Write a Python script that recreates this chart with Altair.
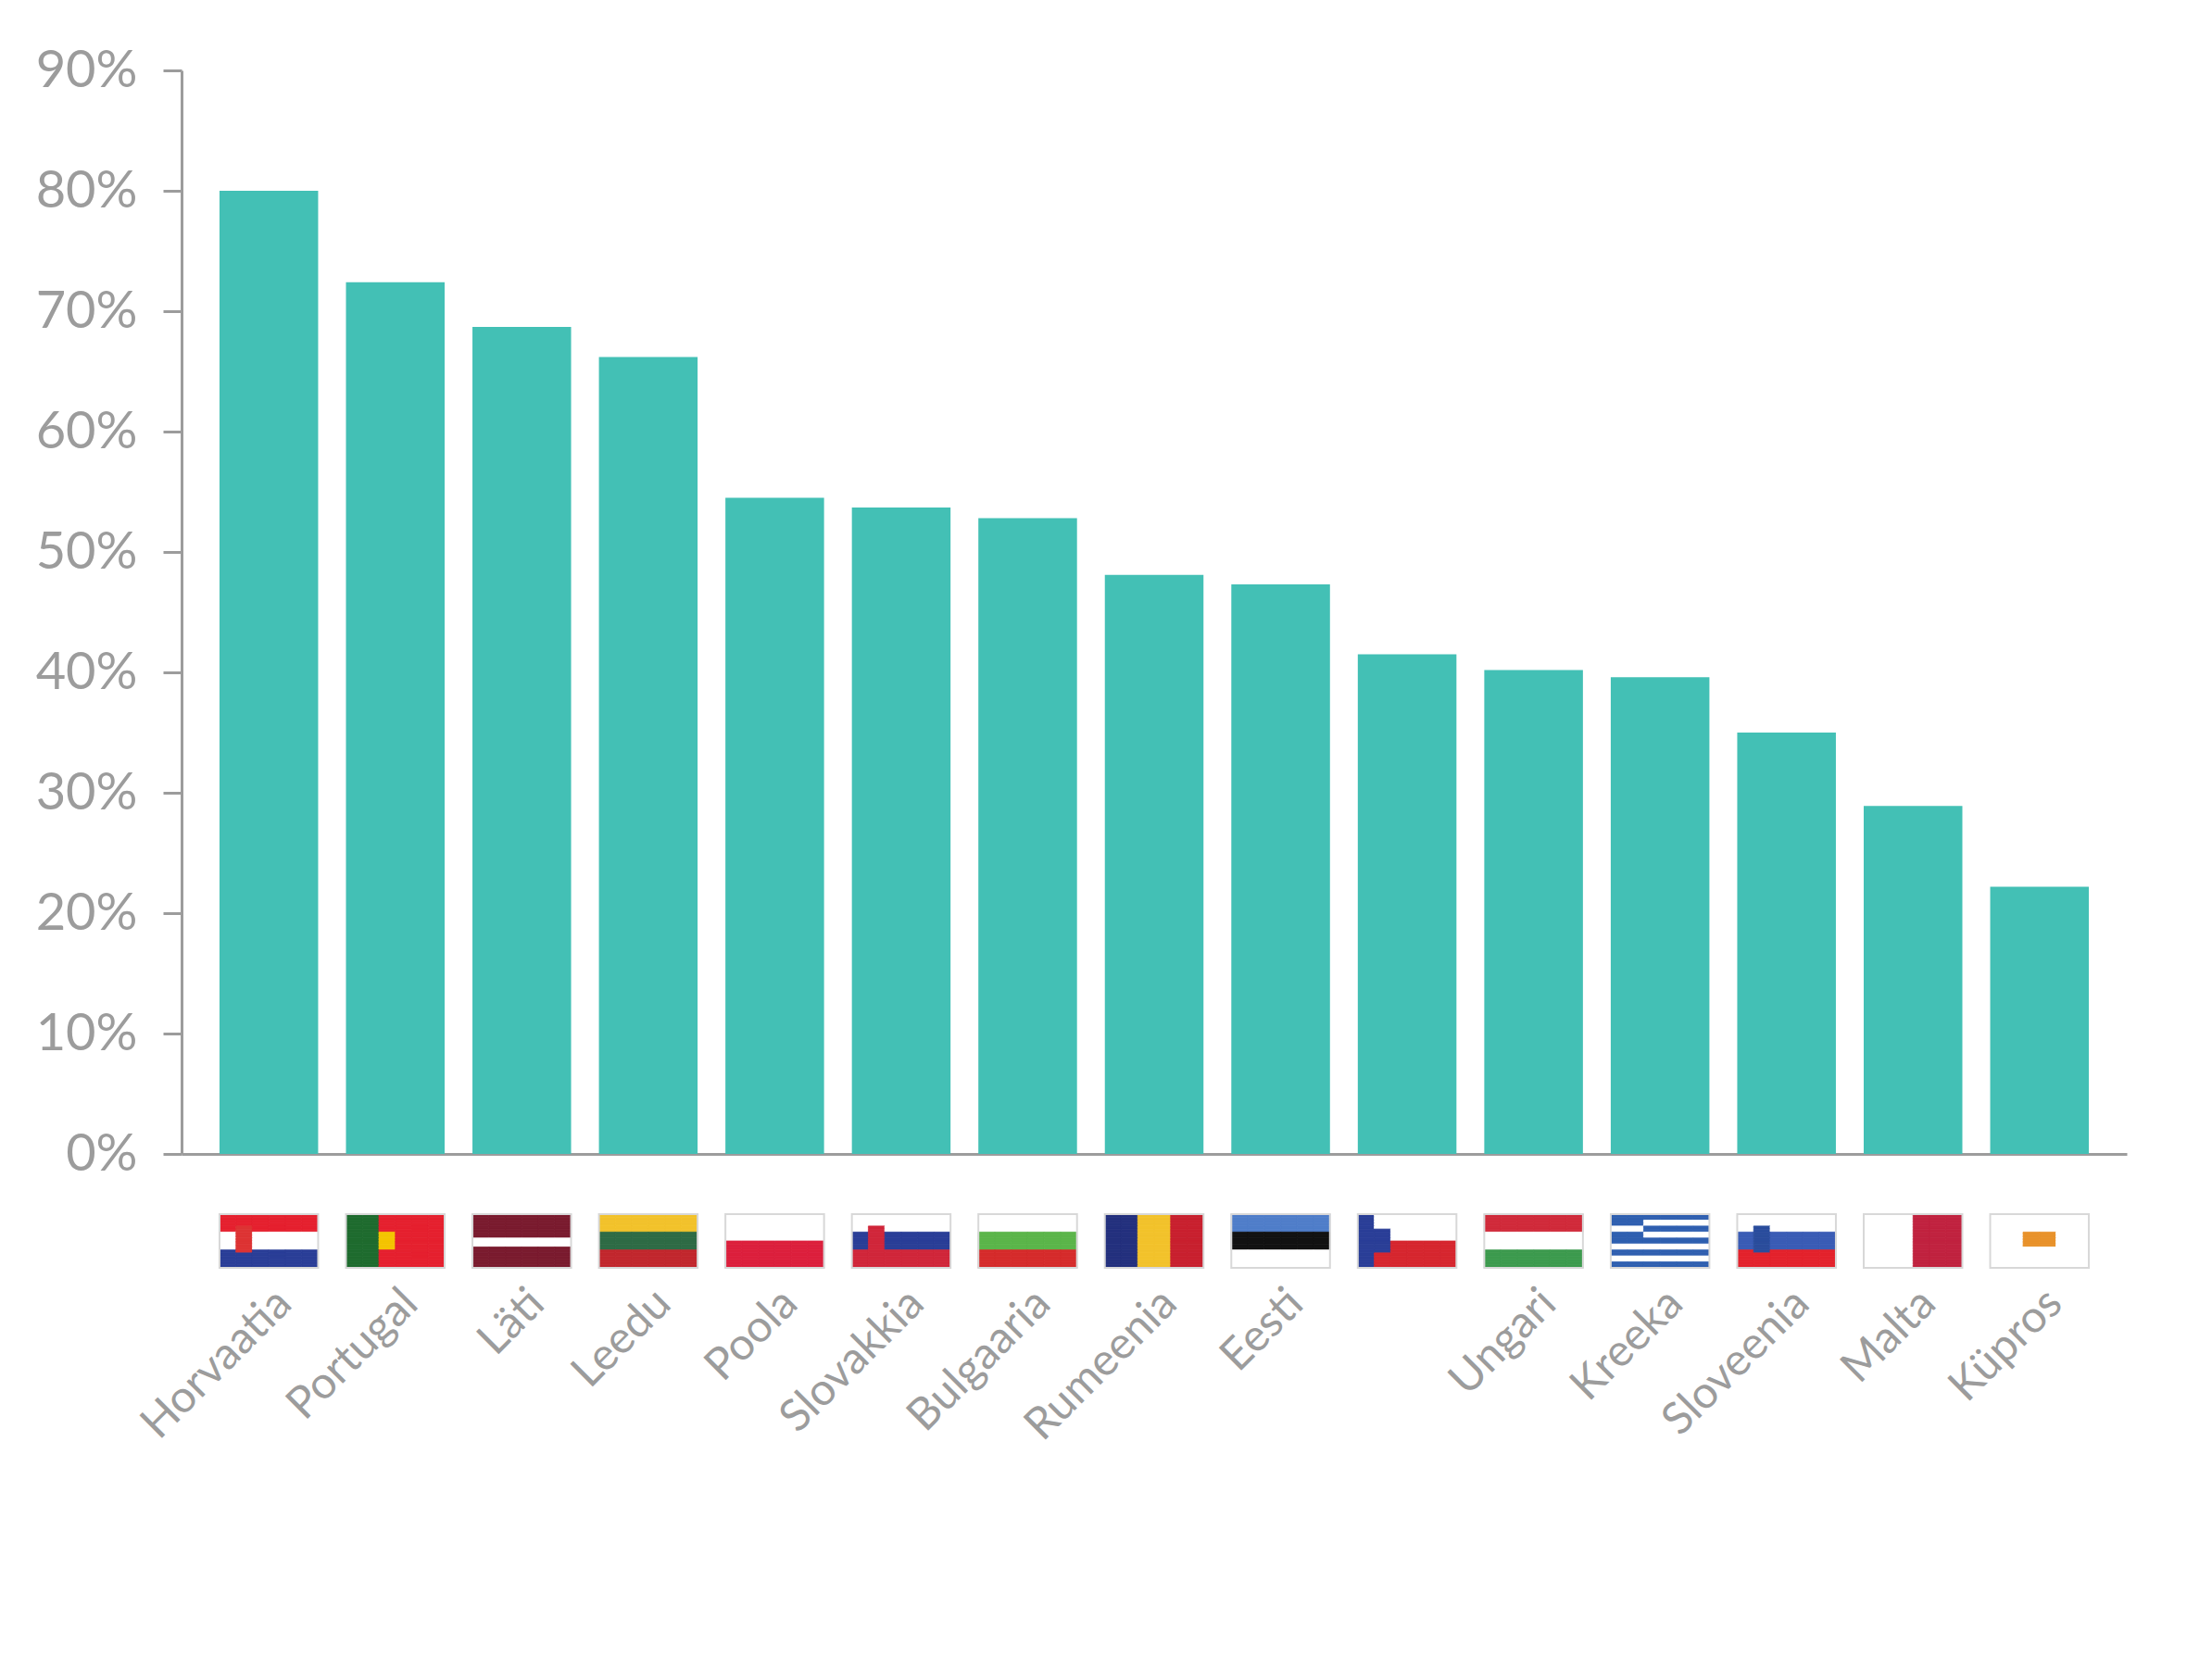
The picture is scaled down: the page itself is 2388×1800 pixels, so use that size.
import altair as alt
import pandas as pd

countries = ["Horvaatia", "Portugal", "Läti", "Leedu", "Poola", "Slovakkia", "Bulgaaria",
             "Rumeenia", "Eesti", "Tšehhi", "Ungari", "Kreeka", "Sloveenia", "Malta", "Küpros"]
shares = [0.800, 0.724, 0.687, 0.662, 0.545, 0.537, 0.528, 0.481, 0.473, 0.415, 0.402,
          0.396, 0.350, 0.289, 0.222]

ROWS, COLS = 18, 6
W, R, B, G, Y, K = "#FFFFFF", "#E5202E", "#2A3E97", "#3C9A4E", "#F2C22B", "#111111"


def stripes(colors, vertical=False):
    n = len(colors)
    if vertical:
        return lambda r, c: colors[c * n // COLS]
    return lambda r, c: colors[r * n // ROWS]


def greece(r, c):
    if r < 10 and c < 2:
        return W if r in (4, 5) else "#2F5FB0"
    return "#2F5FB0" if (r // 2) % 2 == 0 else W


def czech(r, c):
    if c < 2 and abs(r - 8.5) < (2 - c) * 4.5:
        return "#2A3E97"
    return W if r < 9 else "#D6262E"


def with_shield(base, color):
    def f(r, c):
        if 4 <= r < 13 and c == 1:
            return color
        return base(r, c)
    return f


def portugal(r, c):
    if 6 <= r < 12 and c == 2:
        return "#F4C400"
    return "#1E6B2E" if c < 2 else R


def cyprus(r, c):
    if 6 <= r < 11 and 2 <= c < 4:
        return "#E8922B"
    return W


flags = {
    "Horvaatia": with_shield(stripes([R, W, B]), "#D33"),
    "Portugal": portugal,
    "Läti": stripes(["#7A1B2E", "#7A1B2E", W, "#7A1B2E", "#7A1B2E"]),
    "Leedu": stripes([Y, "#2E6B45", "#C1272D"]),
    "Poola": stripes([W, "#DC1F3C"]),
    "Slovakkia": with_shield(stripes([W, B, "#D0263A"]), "#D0263A"),
    "Bulgaaria": stripes([W, "#5BB54A", "#D52B2B"]),
    "Rumeenia": stripes(["#23307D", Y, "#C8202E"], vertical=True),
    "Eesti": stripes(["#4F7DC9", K, W]),
    "Tšehhi": czech,
    "Ungari": stripes(["#D02A3A", W, G]),
    "Kreeka": greece,
    "Sloveenia": with_shield(stripes([W, "#3A5CB5", "#E3222C"]), "#2A4C9C"),
    "Malta": stripes([W, "#C0223F"], vertical=True),
    "Küpros": cyprus,
}

bars_df = pd.DataFrame({"country": countries, "share": shares})
flag_df = pd.DataFrame([
    {"country": name, "row": r, "col": c, "color": flags[name](r, c)}
    for name in countries for r in range(ROWS) for c in range(COLS)
])

grey = "#9C9C9C"
xscale = alt.Scale(domain=countries, paddingInner=0.22, paddingOuter=0.3)

bars = alt.Chart(bars_df).mark_bar(color="#43C0B5").encode(
    x=alt.X("country:N", sort=countries, scale=xscale,
            axis=alt.Axis(labels=False, ticks=False, title=None,
                          domainColor=grey, domainWidth=3)),
    y=alt.Y("share:Q", scale=alt.Scale(domain=[0, 0.9]),
            axis=alt.Axis(format=".0%", values=[i / 10 for i in range(10)],
                          title=None, grid=False, labelFontSize=56,
                          labelColor=grey, domainColor=grey, domainWidth=3,
                          tickColor=grey, tickSize=20, tickWidth=3,
                          labelPadding=28)),
).properties(width=2100, height=1170)

cells = alt.Chart(flag_df).mark_rect(strokeWidth=0.8).encode(
    x=alt.X("country:N", sort=countries, scale=xscale,
            axis=alt.Axis(title=None, ticks=False, domain=False, labelAngle=-45,
                          labelAlign="right", labelBaseline="top", labelLimit=0,
                          labelFontSize=48, labelColor=grey, labelPadding=14,
                          labelExpr="datum.value == 'Tšehhi' ? '' : datum.value")),
    xOffset=alt.XOffset("col:O"),
    y=alt.Y("row:O", axis=None),
    color=alt.Color("color:N", scale=None),
    stroke=alt.Stroke("color:N", scale=None),
)

frames = alt.Chart(bars_df).mark_rect(fillOpacity=0, stroke="#D8D8D8", strokeWidth=2).encode(
    x=alt.X("country:N", sort=countries, scale=xscale),
    y=alt.value(0),
    y2=alt.value(58),
)

flag_panel = alt.layer(cells, frames).properties(width=2100, height=58)

chart = alt.vconcat(bars, flag_panel, spacing=36).configure(
    font="Lato", padding={"left": 30, "top": 40, "right": 20, "bottom": 10}
).configure_view(stroke=None)

chart.save("out.html", embed_options={"renderer": "svg", "actions": False})
